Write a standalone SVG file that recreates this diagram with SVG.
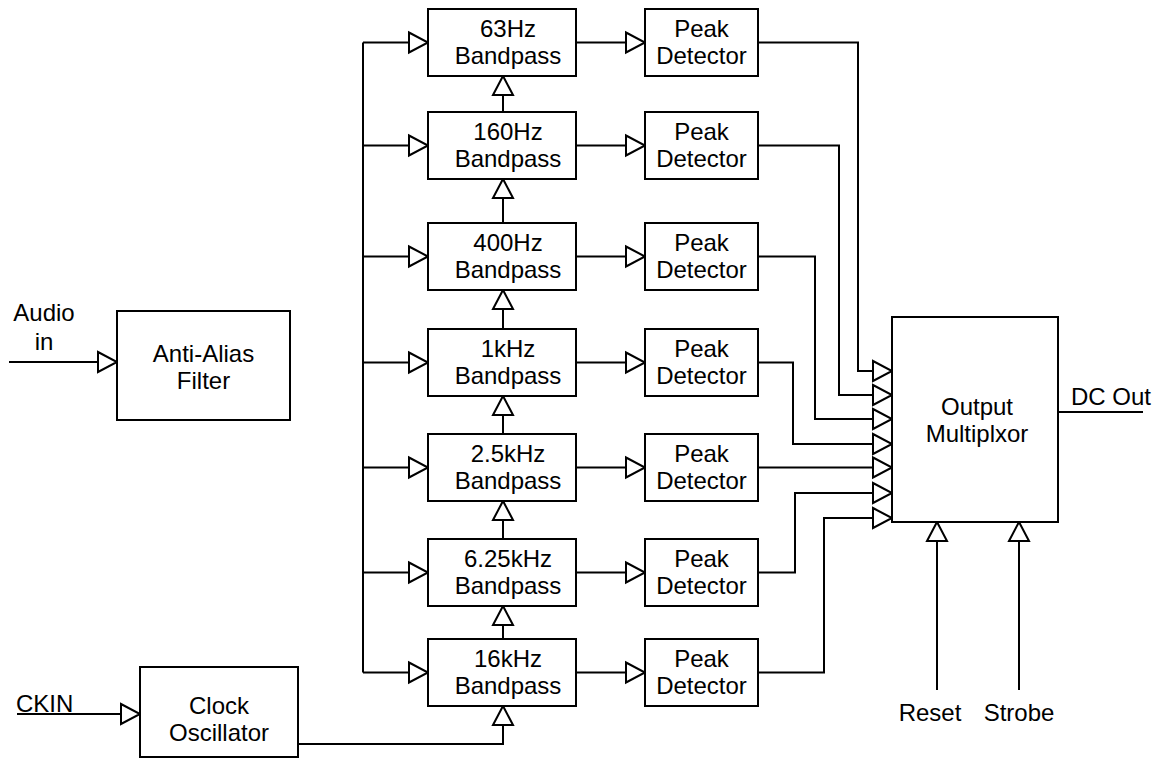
<svg xmlns="http://www.w3.org/2000/svg" width="1160" height="760" viewBox="0 0 1160 760">
<style>
.box{fill:#fff;stroke:#000;stroke-width:2}
.t{font-family:"Liberation Sans",Arial,sans-serif;font-size:24px;fill:#000;text-anchor:middle}
.tl{font-family:"Liberation Sans",Arial,sans-serif;font-size:24px;fill:#000}
.w{fill:none;stroke:#000;stroke-width:2}
.a{marker-end:url(#arr)}
</style>
<defs>
<marker id="arr" markerUnits="userSpaceOnUse" markerWidth="26" markerHeight="26" viewBox="-3 -13 26 26" refX="19" refY="0" orient="auto">
<path d="M0,-10 L19,0 L0,10 Z" fill="#fff" stroke="#000" stroke-width="2"/>
</marker>
</defs>
<rect width="1160" height="760" fill="#fff"/>
<g id="connectors">
<path class="w a" d="M9,362 H117"/>
<path class="w a" d="M17,714 H140"/>
<path class="w a" d="M298,744 H503 V706"/>
<path class="w" d="M363,42.5 V672.5"/>
<path class="w a" d="M363,42.5 H428"/>
<path class="w a" d="M363,145.5 H428"/>
<path class="w a" d="M363,256.5 H428"/>
<path class="w a" d="M363,362.5 H428"/>
<path class="w a" d="M363,467.5 H428"/>
<path class="w a" d="M363,572.5 H428"/>
<path class="w a" d="M363,672.5 H428"/>
<path class="w a" d="M503,112 V76"/>
<path class="w a" d="M503,223 V179"/>
<path class="w a" d="M503,329 V290"/>
<path class="w a" d="M503,434 V396"/>
<path class="w a" d="M503,539 V501"/>
<path class="w a" d="M503,639 V606"/>
<path class="w a" d="M576,42.5 H645"/>
<path class="w a" d="M576,145.5 H645"/>
<path class="w a" d="M576,256.5 H645"/>
<path class="w a" d="M576,362.5 H645"/>
<path class="w a" d="M576,467.5 H645"/>
<path class="w a" d="M576,572.5 H645"/>
<path class="w a" d="M576,672.5 H645"/>
<path class="w a" d="M758,42.5 H858 V371 H892"/>
<path class="w a" d="M758,145.5 H839 V395 H892"/>
<path class="w a" d="M758,256.5 H815 V419 H892"/>
<path class="w a" d="M758,362.5 H793 V444 H892"/>
<path class="w a" d="M758,467.5 H892"/>
<path class="w a" d="M758,572.5 H795 V493 H892"/>
<path class="w a" d="M758,672.5 H824 V518 H892"/>
<path class="w a" d="M937,690 V522"/>
<path class="w a" d="M1019,690 V522"/>
<path class="w" d="M1058,412 H1143"/>
</g>
<g id="audio-in"><text class="t" x="44" y="321">Audio</text><text class="t" x="44" y="350">in</text></g>
<g id="ckin"><text class="tl" x="16" y="712">CKIN</text></g>
<g id="anti-alias"><rect class="box" x="117" y="311" width="173" height="109"/><text class="t" x="203.5" y="362">Anti-Alias</text><text class="t" x="203.5" y="389">Filter</text></g>
<g id="clock"><rect class="box" x="140" y="667" width="158" height="90"/><text class="t" x="219" y="714">Clock</text><text class="t" x="219" y="741">Oscillator</text></g>
<g id="bp63"><rect class="box" x="428" y="9" width="148" height="67"/><text class="t" x="508" y="37">63Hz</text><text class="t" x="508" y="64">Bandpass</text></g>
<g id="bp160"><rect class="box" x="428" y="112" width="148" height="67"/><text class="t" x="508" y="140">160Hz</text><text class="t" x="508" y="167">Bandpass</text></g>
<g id="bp400"><rect class="box" x="428" y="223" width="148" height="67"/><text class="t" x="508" y="251">400Hz</text><text class="t" x="508" y="278">Bandpass</text></g>
<g id="bp1k"><rect class="box" x="428" y="329" width="148" height="67"/><text class="t" x="508" y="357">1kHz</text><text class="t" x="508" y="384">Bandpass</text></g>
<g id="bp2k5"><rect class="box" x="428" y="434" width="148" height="67"/><text class="t" x="508" y="462">2.5kHz</text><text class="t" x="508" y="489">Bandpass</text></g>
<g id="bp6k25"><rect class="box" x="428" y="539" width="148" height="67"/><text class="t" x="508" y="567">6.25kHz</text><text class="t" x="508" y="594">Bandpass</text></g>
<g id="bp16k"><rect class="box" x="428" y="639" width="148" height="67"/><text class="t" x="508" y="667">16kHz</text><text class="t" x="508" y="694">Bandpass</text></g>
<g id="pd1"><rect class="box" x="645" y="9" width="113" height="67"/><text class="t" x="701.5" y="37">Peak</text><text class="t" x="701.5" y="64">Detector</text></g>
<g id="pd2"><rect class="box" x="645" y="112" width="113" height="67"/><text class="t" x="701.5" y="140">Peak</text><text class="t" x="701.5" y="167">Detector</text></g>
<g id="pd3"><rect class="box" x="645" y="223" width="113" height="67"/><text class="t" x="701.5" y="251">Peak</text><text class="t" x="701.5" y="278">Detector</text></g>
<g id="pd4"><rect class="box" x="645" y="329" width="113" height="67"/><text class="t" x="701.5" y="357">Peak</text><text class="t" x="701.5" y="384">Detector</text></g>
<g id="pd5"><rect class="box" x="645" y="434" width="113" height="67"/><text class="t" x="701.5" y="462">Peak</text><text class="t" x="701.5" y="489">Detector</text></g>
<g id="pd6"><rect class="box" x="645" y="539" width="113" height="67"/><text class="t" x="701.5" y="567">Peak</text><text class="t" x="701.5" y="594">Detector</text></g>
<g id="pd7"><rect class="box" x="645" y="639" width="113" height="67"/><text class="t" x="701.5" y="667">Peak</text><text class="t" x="701.5" y="694">Detector</text></g>
<g id="mux"><rect class="box" x="892" y="317" width="166" height="205"/><text class="t" x="977" y="415">Output</text><text class="t" x="977" y="442">Multiplxor</text></g>
<g id="dc-out"><text class="tl" x="1071" y="405">DC Out</text></g>
<g id="reset"><text class="t" x="930" y="721">Reset</text></g>
<g id="strobe"><text class="t" x="1019" y="721">Strobe</text></g>
</svg>
